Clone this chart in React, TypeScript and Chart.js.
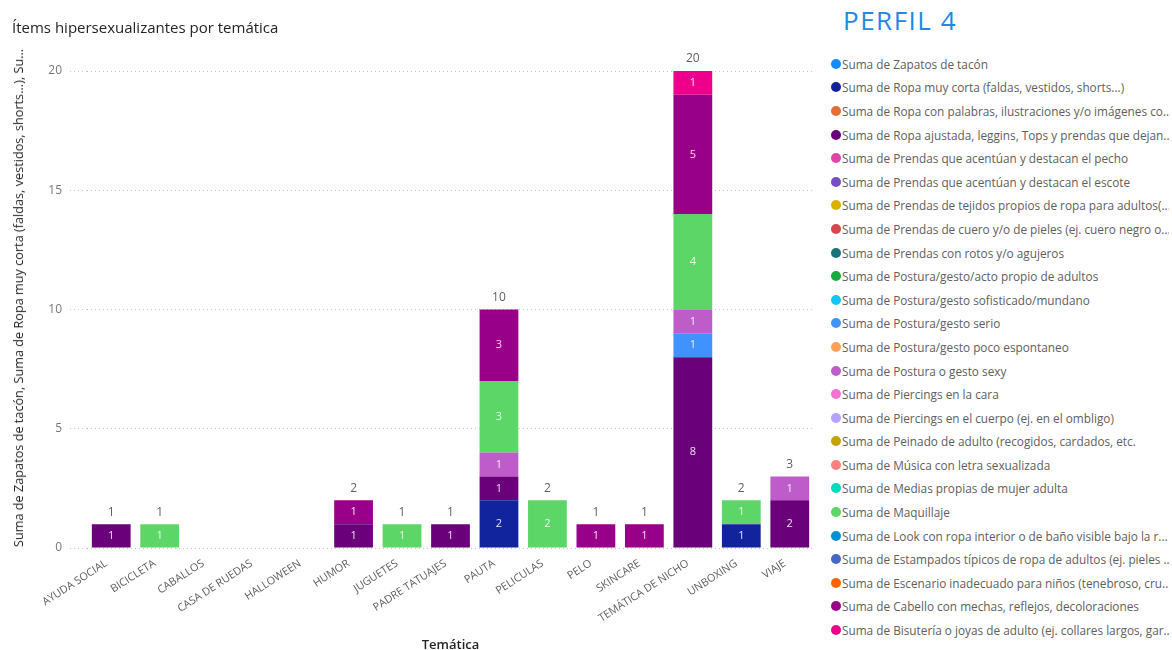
import React, { useEffect, useRef } from "react";
import { Chart, registerables } from "chart.js";

Chart.register(...registerables);

// Themes on the category axis
const categories = [
  "AYUDA SOCIAL",
  "BICICLETA",
  "CABALLOS",
  "CASA DE RUEDAS",
  "HALLOWEEN",
  "HUMOR",
  "JUGUETES",
  "PADRE TATUAJES",
  "PAUTA",
  "PELICULAS",
  "PELO",
  "SKINCARE",
  "TEMÁTICA DE NICHO",
  "UNBOXING",
  "VIAJE",
];

// Counts per theme for each item (null = no occurrences)
const empty = [null, null, null, null, null, null, null, null, null, null, null, null, null, null, null];
const zapatosTacon = empty;
const ropaMuyCorta = [null, null, null, null, null, null, null, null, 2, null, null, null, null, 1, null];
const ropaPalabras = empty;
const ropaAjustada = [1, null, null, null, null, 1, null, 1, 1, null, null, null, 8, null, 2];
const prendasPecho = empty;
const prendasEscote = empty;
const prendasTejidos = empty;
const prendasCuero = empty;
const prendasRotos = empty;
const posturaAdultos = empty;
const posturaSofisticado = empty;
const posturaSerio = [null, null, null, null, null, null, null, null, null, null, null, null, 1, null, null];
const posturaPocoEspontaneo = empty;
const posturaSexy = [null, null, null, null, null, null, null, null, 1, null, null, null, 1, null, 1];
const piercingsCara = empty;
const piercingsCuerpo = empty;
const peinadoAdulto = empty;
const musicaSexualizada = empty;
const mediasAdulta = empty;
const maquillaje = [null, 1, null, null, null, null, 1, null, 3, 2, null, null, 4, 1, null];
const lookRopaInterior = empty;
const estampados = empty;
const escenario = empty;
const cabello = [null, null, null, null, null, 1, null, null, 3, null, 1, 1, 5, null, null];
const bisuteria = [null, null, null, null, null, null, null, null, null, null, null, null, 1, null, null];

const seriesLabels = [
  "Suma de Zapatos de tacón",
  "Suma de Ropa muy corta (faldas, vestidos, shorts...)",
  "Suma de Ropa con palabras, ilustraciones y/o imágenes co...",
  "Suma de Ropa ajustada, leggins, Tops y prendas que dejan...",
  "Suma de Prendas que acentúan y destacan el pecho",
  "Suma de Prendas que acentúan y destacan el escote",
  "Suma de Prendas de tejidos propios de ropa para adultos(...",
  "Suma de Prendas de cuero y/o de pieles (ej. cuero negro o...",
  "Suma de Prendas con rotos y/o agujeros",
  "Suma de Postura/gesto/acto propio de adultos",
  "Suma de Postura/gesto sofisticado/mundano",
  "Suma de Postura/gesto serio",
  "Suma de Postura/gesto poco espontaneo",
  "Suma de Postura o gesto sexy",
  "Suma de Piercings en la cara",
  "Suma de Piercings en el cuerpo (ej. en el ombligo)",
  "Suma de Peinado de adulto (recogidos, cardados, etc.",
  "Suma de Música con letra sexualizada",
  "Suma de Medias propias de mujer adulta",
  "Suma de Maquillaje",
  "Suma de Look con ropa interior o de baño visible bajo la r...",
  "Suma de Estampados típicos de ropa de adultos (ej. pieles ...",
  "Suma de Escenario inadecuado para niños (tenebroso, cru...",
  "Suma de Cabello con mechas, reflejos, decoloraciones",
  "Suma de Bisutería o joyas de adulto (ej. collares largos, gar...",
];

const seriesColors = [
  "#118DFF", "#12239E", "#E66C37", "#6B007B", "#E044A7",
  "#744EC2", "#D9B300", "#D64550", "#197278", "#1AAB40",
  "#15C6F4", "#4092FF", "#FFA058", "#BE5DC9", "#F472D0",
  "#B5A1FF", "#C4A200", "#FF8080", "#00DBBC", "#5BD667",
  "#0091D5", "#4668C5", "#FF6300", "#99008A", "#EC008C",
];

const seriesValues = [
  zapatosTacon, ropaMuyCorta, ropaPalabras, ropaAjustada, prendasPecho,
  prendasEscote, prendasTejidos, prendasCuero, prendasRotos, posturaAdultos,
  posturaSofisticado, posturaSerio, posturaPocoEspontaneo, posturaSexy, piercingsCara,
  piercingsCuerpo, peinadoAdulto, musicaSexualizada, mediasAdulta, maquillaje,
  lookRopaInterior, estampados, escenario, cabello, bisuteria,
];

const yTicks = [0, 5, 10, 15, 20];

const yTitle =
  "Suma de Zapatos de tacón, Suma de Ropa muy corta (faldas, vestidos, shorts...), Su...";
const xTitle = "Temática";
const chartTitle = "Ítems hipersexualizantes por temática";
const profileTitle = "PERFIL 4";

const FONT = "'Open Sans', 'Noto Sans', sans-serif";

// Segment values inside each stack and the stack total above it
const valueLabels = {
  id: "valueLabels",
  afterDatasetsDraw(chart: any) {
    const ctx = chart.ctx;
    ctx.save();
    ctx.textAlign = "center";
    ctx.textBaseline = "middle";
    const tops: number[] = categories.map(() => Infinity);
    const totals: number[] = categories.map(() => 0);
    ctx.font = `11px ${FONT}`;
    chart.data.datasets.forEach((ds: any, i: number) => {
      const meta = chart.getDatasetMeta(i);
      meta.data.forEach((el: any, j: number) => {
        const v = ds.data[j];
        if (!v) return;
        const { x, y, base } = el.getProps(["x", "y", "base"], true);
        totals[j] += v;
        tops[j] = Math.min(tops[j], y);
        ctx.fillStyle = "rgba(255,255,255,0.88)";
        ctx.fillText(String(v), x, (y + base) / 2);
      });
    });
    const xScale = chart.scales.x;
    ctx.fillStyle = "#605E5C";
    ctx.font = `12px ${FONT}`;
    totals.forEach((t, j) => {
      if (!t) return;
      ctx.fillText(String(t), xScale.getPixelForValue(j), tops[j] - 12);
    });
    ctx.restore();
  },
};

function BarChart() {
  const ref = useRef<HTMLCanvasElement | null>(null);
  useEffect(() => {
    if (!ref.current) return;
    const chart = new Chart(ref.current, {
      type: "bar",
      data: {
        labels: categories,
        datasets: seriesLabels.map((label, i) => ({
          label,
          data: seriesValues[i] as any,
          backgroundColor: seriesColors[i],
          borderWidth: 0,
          barPercentage: 0.8,
          categoryPercentage: 1,
        })),
      },
      options: {
        responsive: false,
        animation: false,
        layout: { padding: { top: 71, right: 6, bottom: 0, left: 0 } },
        plugins: {
          legend: { display: false },
          tooltip: { enabled: false },
        },
        scales: {
          x: {
            stacked: true,
            grid: { display: false },
            border: { display: false },
            ticks: {
              color: "#605E5C",
              font: { family: FONT, size: 10.8 },
              minRotation: 33,
              maxRotation: 33,
              autoSkip: false,
              padding: 1,
              labelOffset: -5,
            },
            title: {
              display: true,
              text: xTitle,
              color: "#252423",
              font: { family: FONT, size: 13, weight: "600" },
              padding: { top: 0, bottom: 2 },
            },
            afterFit(scale: any) {
              scale.height = 107;
            },
          },
          y: {
            stacked: true,
            min: 0,
            max: 20,
            afterBuildTicks(scale: any) {
              scale.ticks = yTicks.map((v) => ({ value: v }));
            },
            grid: {
              color: "#C8C6C4",
              lineWidth: 1,
              tickLength: 17,
              tickColor: "#C8C6C4",
              tickBorderDash: [1, 3],
            },
            border: { display: false, dash: [1, 3] },
            ticks: {
              color: "#777777",
              font: { family: FONT, size: 12 },
              padding: 8,
            },
            title: { display: false },
            afterFit(scale: any) {
              scale.width = 87;
            },
          },
        },
      },
      plugins: [valueLabels],
    });
    return () => chart.destroy();
  }, []);
  return <canvas ref={ref} width={820} height={655} style={{ position: "absolute", left: 0, top: 0 }} />;
}

function Legend() {
  return (
    <div style={{ position: "absolute", left: 831, top: 52, width: 338 }}>
      {seriesLabels.map((label, i) => (
        <div
          key={label}
          style={{
            display: "flex",
            alignItems: "center",
            height: 23.6,
            whiteSpace: "nowrap",
            overflow: "hidden",
            fontFamily: FONT,
            fontSize: 11.8,
            color: "#605E5C",
          }}
        >
          <span
            style={{
              display: "inline-block",
              width: 10,
              height: 10,
              borderRadius: "50%",
              background: seriesColors[i],
              marginRight: 1,
              flex: "none",
            }}
          />
          {label}
        </div>
      ))}
    </div>
  );
}

export default function App() {
  return (
    <div style={{ position: "absolute", left: 0, top: 0, width: 1172, height: 650, background: "#fff", overflow: "hidden" }}>
      <BarChart />
      <div
        style={{
          position: "absolute",
          left: 18,
          top: 298,
          transform: "translate(-50%, -50%) rotate(-90deg)",
          fontFamily: FONT,
          fontSize: 12.7,
          color: "#252423",
          whiteSpace: "nowrap",
          lineHeight: "16px",
        }}
      >
        {yTitle}
      </div>
      <div
        style={{
          position: "absolute",
          left: 12,
          top: 17,
          fontFamily: FONT,
          fontSize: 15,
          color: "#252423",
          whiteSpace: "nowrap",
          lineHeight: "20px",
        }}
      >
        {chartTitle}
      </div>
      <div
        style={{
          position: "absolute",
          left: 843,
          top: 4,
          fontFamily: FONT,
          fontSize: 26,
          letterSpacing: 1.5,
          color: "#1E88E5",
          whiteSpace: "nowrap",
          lineHeight: "32px",
        }}
      >
        {profileTitle}
      </div>
      <Legend />
    </div>
  );
}
